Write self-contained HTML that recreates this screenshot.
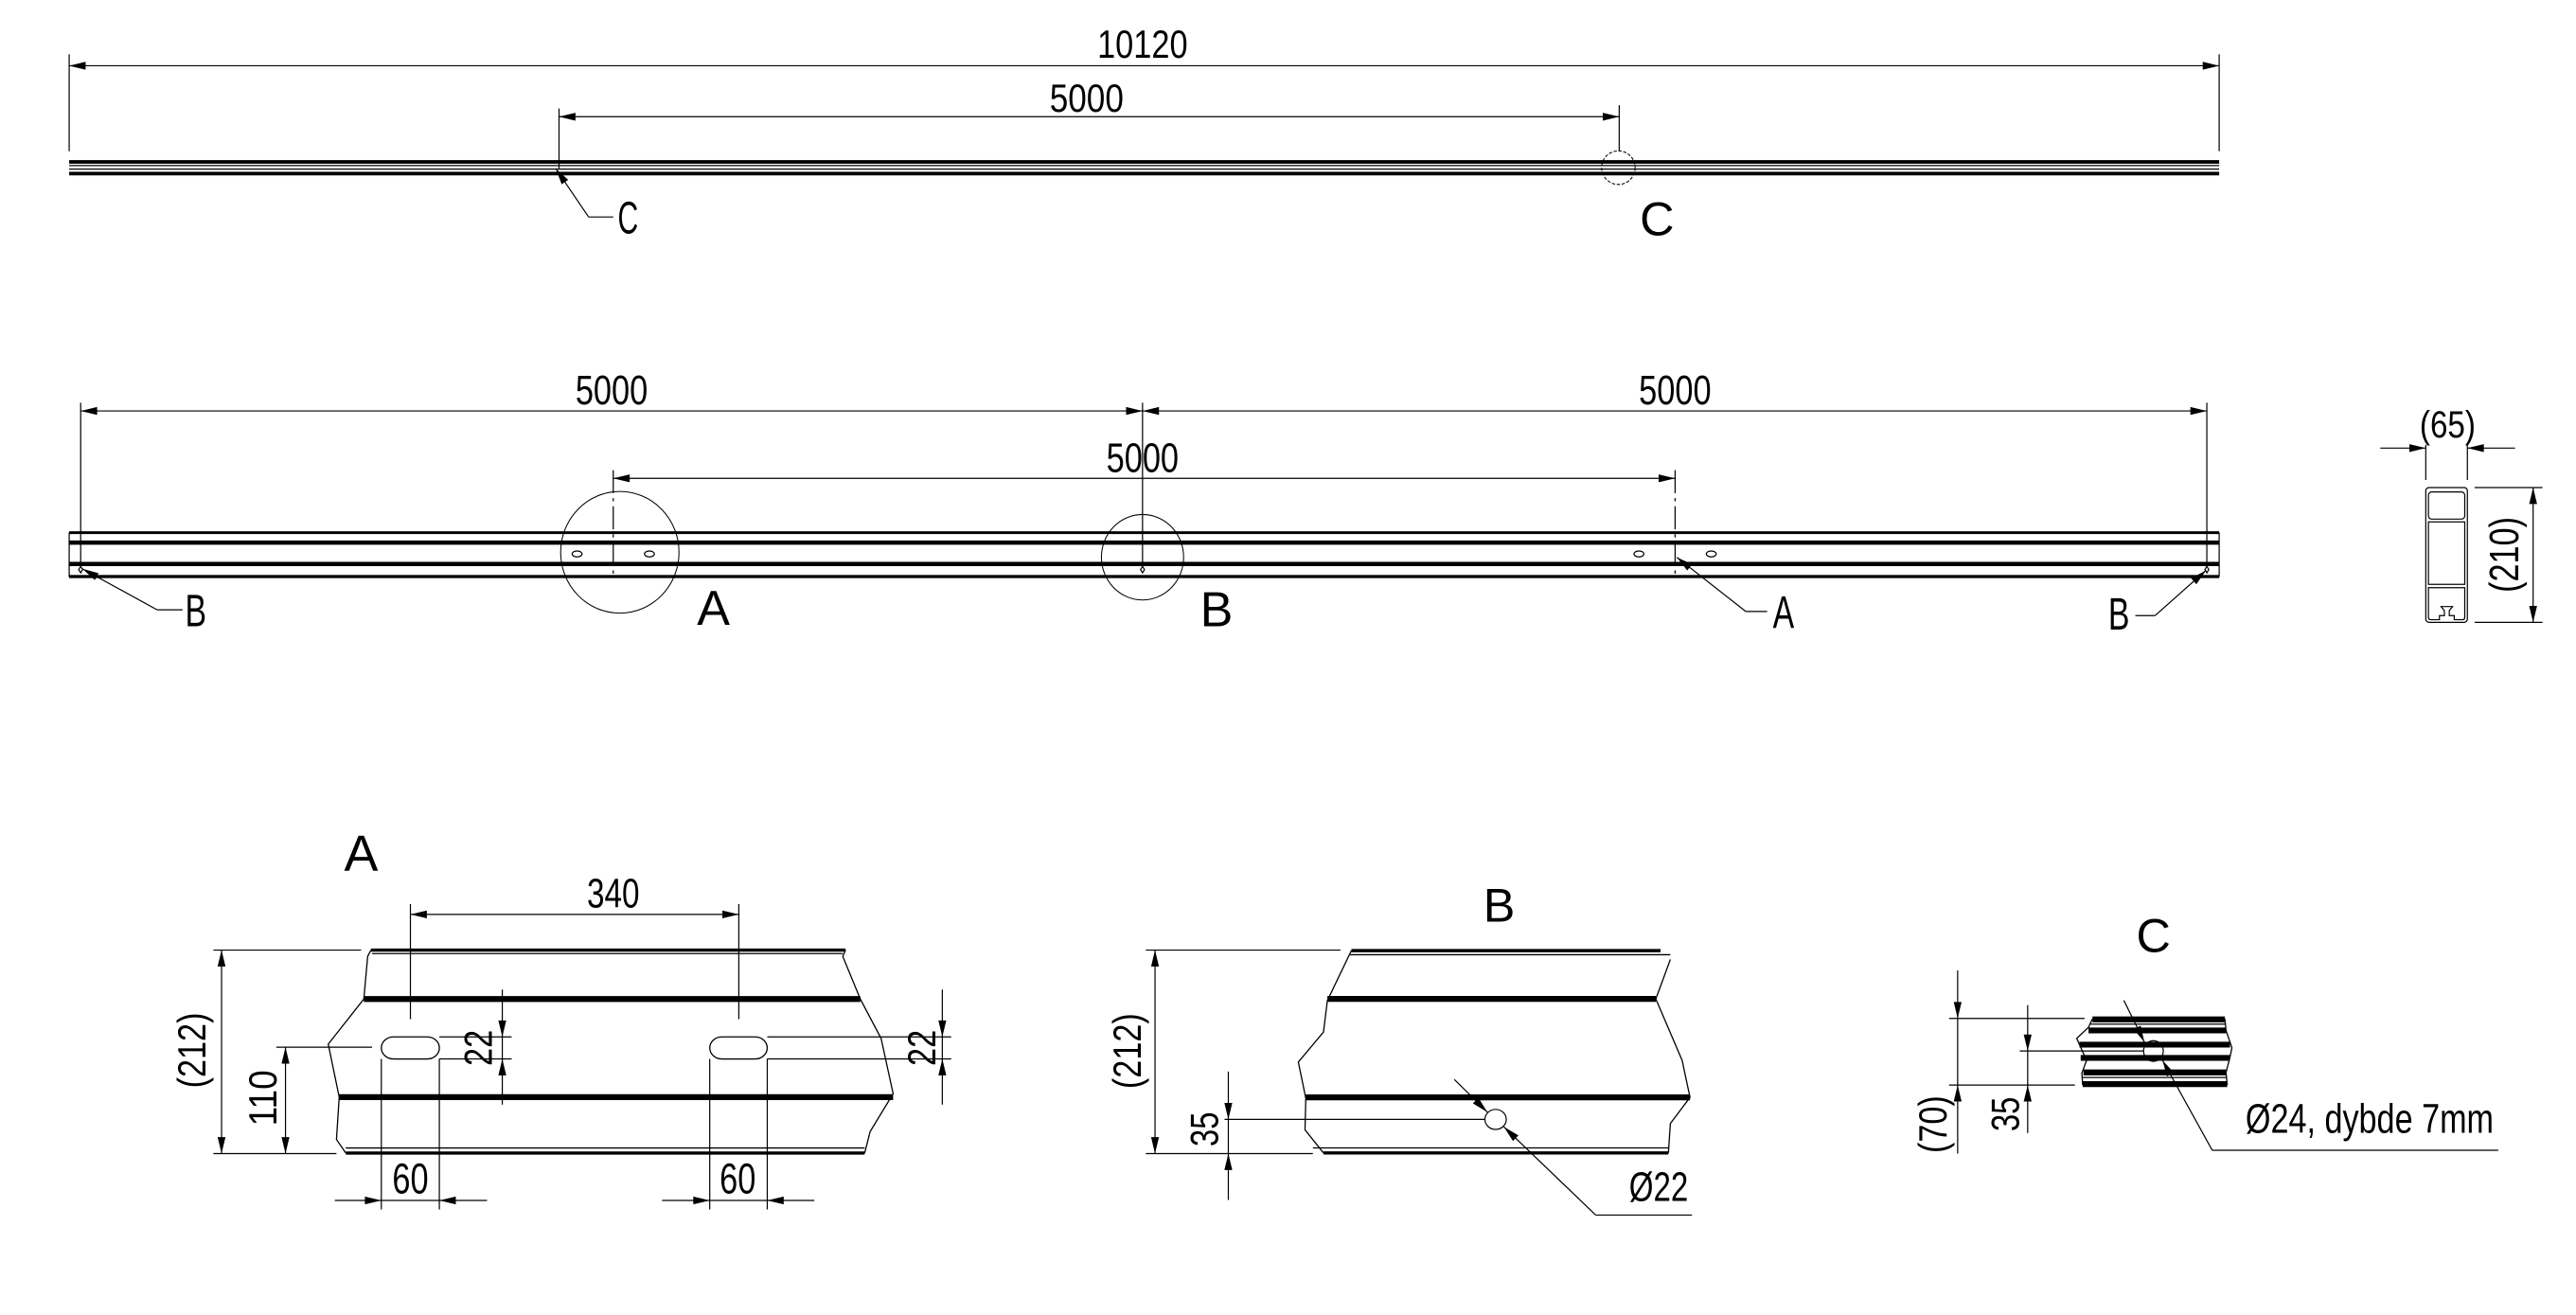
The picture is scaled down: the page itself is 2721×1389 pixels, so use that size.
<!DOCTYPE html>
<html><head><meta charset="utf-8"><style>
html,body{margin:0;padding:0;background:#fff;}
svg{display:block;}
text{font-family:"Liberation Sans Narrow","Liberation Sans",sans-serif;fill:#000;}
.r{font-family:"Liberation Sans",sans-serif;}
.t{stroke:#000;stroke-width:0.7;fill:none;}
.g .t{vector-effect:non-scaling-stroke;stroke-width:1.3;}
.g .m{vector-effect:non-scaling-stroke;stroke-width:3.4;stroke:#000;fill:none;}
.g .k{vector-effect:non-scaling-stroke;stroke-width:6.2;stroke:#000;fill:none;}
.d{stroke:#000;stroke-width:0.7;fill:none;}
.a{stroke:#000;stroke-width:0.7;fill:none;marker-end:url(#ar);}
.aa{stroke:#000;stroke-width:0.7;fill:none;marker-end:url(#ar);marker-start:url(#ar);}
</style></head><body>
<svg width="2721" height="1389" viewBox="0 0 1567 800" xmlns="http://www.w3.org/2000/svg">
<defs>
<marker id="ar" markerUnits="userSpaceOnUse" viewBox="-11 -3 12 6" refX="0" refY="0" markerWidth="12" markerHeight="6" orient="auto-start-reverse">
<path d="M0,0 L-10,-2.4 L-10,2.4 Z" fill="#000"/>
</marker>
</defs>

<!-- ========== TOP VIEW ========== -->
<line class="d" x1="42" y1="33" x2="42" y2="92"/>
<line class="d" x1="1350" y1="33" x2="1350" y2="92"/>
<line class="aa" x1="42" y1="40" x2="1350" y2="40"/>
<text x="695" y="35" font-size="24" text-anchor="middle" textLength="55" lengthAdjust="spacingAndGlyphs">10120</text>
<line class="d" x1="340" y1="66" x2="340" y2="103"/>
<line class="d" x1="985" y1="64" x2="985" y2="92"/>
<line class="aa" x1="340" y1="71" x2="985" y2="71"/>
<text x="661" y="68" font-size="24" text-anchor="middle" textLength="45" lengthAdjust="spacingAndGlyphs">5000</text>
<rect x="42" y="97.4" width="1308" height="2.2" fill="#000"/>
<line class="t" x1="42" y1="100.7" x2="1350" y2="100.7"/>
<line class="t" x1="42" y1="102.9" x2="1350" y2="102.9"/>
<rect x="42" y="104.5" width="1308" height="2.2" fill="#000"/>
<circle cx="984.5" cy="102" r="10.2" fill="none" stroke="#000" stroke-width="0.6" stroke-dasharray="2 1"/>
<line class="a" x1="358" y1="132" x2="338" y2="102.5"/>
<line class="d" x1="358" y1="132" x2="373" y2="132"/>
<text x="382" y="142" font-size="28" text-anchor="middle" textLength="12.5" lengthAdjust="spacingAndGlyphs">C</text>
<text class="r" x="1008" y="143" font-size="29" text-anchor="middle">C</text>

<!-- ========== MIDDLE VIEW ========== -->
<line class="d" x1="49" y1="245" x2="49" y2="345"/>
<line class="d" x1="695" y1="245" x2="695" y2="342"/>
<line class="d" x1="1342.5" y1="245" x2="1342.5" y2="345"/>
<line class="aa" x1="49" y1="250" x2="695" y2="250"/>
<line class="aa" x1="695" y1="250" x2="1342.5" y2="250"/>
<text x="372" y="246" font-size="25" text-anchor="middle" textLength="44" lengthAdjust="spacingAndGlyphs">5000</text>
<text x="1019" y="246" font-size="25" text-anchor="middle" textLength="44" lengthAdjust="spacingAndGlyphs">5000</text>
<line class="d" x1="373" y1="286" x2="373" y2="352" stroke-dasharray="14 3 2 3"/>
<line class="d" x1="1019" y1="286" x2="1019" y2="352" stroke-dasharray="14 3 2 3"/>
<line class="aa" x1="373" y1="291" x2="1019" y2="291"/>
<text x="695" y="287" font-size="25" text-anchor="middle" textLength="44" lengthAdjust="spacingAndGlyphs">5000</text>
<rect x="42" y="323.2" width="1308" height="1.7" fill="#000"/>
<rect x="42" y="328.8" width="1308" height="2.6" fill="#000"/>
<rect x="42" y="341.8" width="1308" height="2.6" fill="#000"/>
<rect x="42" y="349.8" width="1308" height="1.9" fill="#000"/>
<line class="t" x1="42" y1="324" x2="42" y2="351"/>
<line class="t" x1="1350" y1="324" x2="1350" y2="351"/>
<ellipse cx="351" cy="337" rx="3" ry="1.8" class="t"/>
<ellipse cx="395" cy="337" rx="3" ry="1.8" class="t"/>
<ellipse cx="997" cy="337" rx="3" ry="1.8" class="t"/>
<ellipse cx="1041" cy="337" rx="3" ry="1.8" class="t"/>
<ellipse cx="377" cy="336" rx="36" ry="37" fill="none" stroke="#000" stroke-width="0.6"/>
<ellipse cx="695" cy="339" rx="25" ry="26" fill="none" stroke="#000" stroke-width="0.6"/>
<path d="M695,344.5 L696.2,346.5 L695,348.5 L693.8,346.5 Z" class="t" stroke-width="0.4"/>
<path d="M49,344.5 L50.2,346.5 L49,348.5 L47.8,346.5 Z" class="t" stroke-width="0.4"/>
<path d="M1342.5,344.5 L1343.7,346.5 L1342.5,348.5 L1341.3,346.5 Z" class="t" stroke-width="0.4"/>
<line class="a" x1="95.5" y1="371" x2="50" y2="346"/>
<line class="d" x1="95.5" y1="371" x2="111" y2="371"/>
<text x="119" y="381" font-size="28" text-anchor="middle" textLength="13" lengthAdjust="spacingAndGlyphs">B</text>
<text class="r" x="434" y="380" font-size="30" text-anchor="middle">A</text>
<text class="r" x="740" y="381" font-size="30" text-anchor="middle">B</text>
<line class="a" x1="1062" y1="372" x2="1020" y2="339"/>
<line class="d" x1="1062" y1="372" x2="1075" y2="372"/>
<text x="1085" y="382" font-size="28" text-anchor="middle" textLength="13" lengthAdjust="spacingAndGlyphs">A</text>
<line class="a" x1="1311" y1="374.5" x2="1342" y2="347"/>
<line class="d" x1="1311" y1="374.5" x2="1299" y2="374.5"/>
<text x="1289" y="383" font-size="28" text-anchor="middle" textLength="13" lengthAdjust="spacingAndGlyphs">B</text>

<!-- ========== SECTION ========== -->
<line class="d" x1="1475.7" y1="270.7" x2="1475.7" y2="292"/>
<line class="d" x1="1501" y1="270.7" x2="1501" y2="292"/>
<line class="a" x1="1448" y1="272.6" x2="1475.7" y2="272.6"/>
<line class="a" x1="1530" y1="272.6" x2="1501" y2="272.6"/>
<text class="r" x="1489" y="266" font-size="23" text-anchor="middle" textLength="34" lengthAdjust="spacingAndGlyphs">(65)</text>
<rect x="1475.7" y="296.6" width="25.3" height="82" rx="2" class="t"/>
<rect x="1477.3" y="299.3" width="22.1" height="16.5" rx="2" class="t" stroke-width="0.5"/>
<rect x="1477.3" y="317.5" width="22.1" height="38" class="t" stroke-width="0.5"/>
<path d="M1477.3,357.5 H1499.4 V375.5 Q1499.4,377 1498,377 H1493 L1493,374.5 L1490,374.5 L1490,371.5 L1492,369 H1485 L1487,371.5 L1487,374.5 L1484,374.5 L1484,377 H1479 Q1477.3,377 1477.3,375.5 Z" class="t" stroke-width="0.5"/>
<line class="d" x1="1505.4" y1="296.6" x2="1546.7" y2="296.6"/>
<line class="d" x1="1505.4" y1="378.6" x2="1546.7" y2="378.6"/>
<line class="aa" x1="1541" y1="296.6" x2="1541" y2="378.6"/>
<text class="r" x="0" y="0" font-size="25" text-anchor="middle" textLength="46" lengthAdjust="spacingAndGlyphs" transform="translate(1532,337.5) rotate(-90)">(210)</text>

<!-- ========== DETAIL A ========== -->
<text class="r" x="219.6" y="530" font-size="31" text-anchor="middle">A</text>
<g class="g" transform="translate(86.4,501.2) scale(0.333,0.192)">
<line class="m" x1="418" y1="400" x2="1285" y2="400"/>
<line class="t" x1="420" y1="411" x2="1280" y2="411"/>
<line class="k" x1="405" y1="555" x2="1312" y2="555"/>
<line class="k" x1="360" y1="866" x2="1372" y2="866"/>
<line class="t" x1="372" y1="1027" x2="1320" y2="1027"/>
<line class="m" x1="372" y1="1043" x2="1320" y2="1043"/>
<polyline class="t" points="418,400 412,420 405,555 340,698 360,866 355,1000 372,1043"/>
<polyline class="t" points="1285,400 1280,420 1312,555 1350,680 1372,855 1330,975 1320,1043"/>
<rect class="t" x="437" y="675" width="106" height="70" rx="22" ry="35"/>
<rect class="t" x="1037" y="675" width="105" height="70" rx="22" ry="35"/>
</g>
<line class="d" x1="249.6" y1="550" x2="249.6" y2="620"/>
<line class="d" x1="449.4" y1="550" x2="449.4" y2="620"/>
<line class="aa" x1="249.6" y1="556.3" x2="449.4" y2="556.3"/>
<text x="373" y="552" font-size="25" text-anchor="middle" textLength="32" lengthAdjust="spacingAndGlyphs">340</text>
<line class="d" x1="267.2" y1="630.8" x2="311.2" y2="630.8"/>
<line class="d" x1="267.2" y1="644.2" x2="311.2" y2="644.2"/>
<line class="a" x1="305.5" y1="602" x2="305.5" y2="630.8"/>
<line class="a" x1="305.5" y1="672" x2="305.5" y2="644.2"/>
<line class="d" x1="305.5" y1="630.8" x2="305.5" y2="644.2"/>
<text class="r" x="0" y="0" font-size="24" text-anchor="middle" textLength="22" lengthAdjust="spacingAndGlyphs" transform="translate(299,637.5) rotate(-90)">22</text>
<line class="d" x1="466.7" y1="630.8" x2="578.6" y2="630.8"/>
<line class="d" x1="466.7" y1="644.2" x2="578.6" y2="644.2"/>
<line class="a" x1="573.2" y1="602" x2="573.2" y2="630.8"/>
<line class="a" x1="573.2" y1="672" x2="573.2" y2="644.2"/>
<line class="d" x1="573.2" y1="630.8" x2="573.2" y2="644.2"/>
<text class="r" x="0" y="0" font-size="24" text-anchor="middle" textLength="22" lengthAdjust="spacingAndGlyphs" transform="translate(569,637.5) rotate(-90)">22</text>
<line class="d" x1="129.7" y1="578" x2="219.6" y2="578"/>
<line class="d" x1="129.7" y1="701.8" x2="204.6" y2="701.8"/>
<line class="aa" x1="134.7" y1="578" x2="134.7" y2="701.8"/>
<text class="r" x="0" y="0" font-size="24" text-anchor="middle" textLength="46" lengthAdjust="spacingAndGlyphs" transform="translate(125,639) rotate(-90)">(212)</text>
<line class="d" x1="168" y1="637.1" x2="226.3" y2="637.1"/>
<line class="aa" x1="173.6" y1="637.1" x2="173.6" y2="701.8"/>
<text class="r" x="0" y="0" font-size="24" text-anchor="middle" textLength="34" lengthAdjust="spacingAndGlyphs" transform="translate(168,668) rotate(-90)">110</text>
<line class="d" x1="231.9" y1="644.2" x2="231.9" y2="735.8"/>
<line class="d" x1="267.2" y1="644.2" x2="267.2" y2="735.8"/>
<line class="a" x1="203.6" y1="730.3" x2="231.9" y2="730.3"/>
<line class="a" x1="296.2" y1="730.3" x2="267.2" y2="730.3"/>
<line class="d" x1="231.9" y1="730.3" x2="267.2" y2="730.3"/>
<text x="249.6" y="726" font-size="26" text-anchor="middle" textLength="22" lengthAdjust="spacingAndGlyphs">60</text>
<line class="d" x1="431.7" y1="644.2" x2="431.7" y2="735.8"/>
<line class="d" x1="466.7" y1="644.2" x2="466.7" y2="735.8"/>
<line class="a" x1="402.7" y1="730.3" x2="431.7" y2="730.3"/>
<line class="a" x1="495.3" y1="730.3" x2="466.7" y2="730.3"/>
<line class="d" x1="431.7" y1="730.3" x2="466.7" y2="730.3"/>
<text x="448.7" y="726" font-size="26" text-anchor="middle" textLength="22" lengthAdjust="spacingAndGlyphs">60</text>

<!-- ========== DETAIL B ========== -->
<text class="r" x="912" y="560.6" font-size="29" text-anchor="middle">B</text>
<g class="g" transform="translate(662.4,564.5) scale(0.239,0.192)">
<line class="m" x1="668" y1="72" x2="1455" y2="72"/>
<line class="t" x1="665" y1="85" x2="1480" y2="85"/>
<line class="k" x1="607" y1="225" x2="1443" y2="225"/>
<line class="k" x1="552" y1="537" x2="1530" y2="537"/>
<line class="t" x1="570" y1="697" x2="1475" y2="697"/>
<line class="m" x1="597" y1="713" x2="1475" y2="713"/>
<polyline class="t" points="668,72 607,230 597,330 533,425 552,540 550,640 597,713"/>
<polyline class="t" points="1480,100 1443,225 1510,420 1530,537 1480,620 1475,713"/>
</g>
<ellipse cx="909.8" cy="681" rx="6.5" ry="6.1" class="t" fill="#fff"/>
<line class="d" x1="697" y1="578" x2="815.4" y2="578"/>
<line class="d" x1="697" y1="701.8" x2="798.6" y2="701.8"/>
<line class="aa" x1="702.6" y1="578" x2="702.6" y2="701.8"/>
<text class="r" x="0" y="0" font-size="24" text-anchor="middle" textLength="46" lengthAdjust="spacingAndGlyphs" transform="translate(694,639.4) rotate(-90)">(212)</text>
<line class="d" x1="744.9" y1="681" x2="903.3" y2="681"/>
<line class="a" x1="747.2" y1="651.9" x2="747.2" y2="681"/>
<line class="a" x1="747.2" y1="730" x2="747.2" y2="701.8"/>
<line class="d" x1="747.2" y1="681" x2="747.2" y2="701.8"/>
<text class="r" x="0" y="0" font-size="24" text-anchor="middle" textLength="21" lengthAdjust="spacingAndGlyphs" transform="translate(741,687) rotate(-90)">35</text>
<line class="a" x1="884.7" y1="656.7" x2="904.8" y2="676.6"/>
<line class="a" x1="970.7" y1="739.2" x2="914.8" y2="685.5"/>
<line class="d" x1="970.7" y1="739.2" x2="1029.3" y2="739.2"/>
<text class="r" x="1009" y="730.6" font-size="25" text-anchor="middle" textLength="36" lengthAdjust="spacingAndGlyphs">Ø22</text>

<!-- ========== DETAIL C ========== -->
<text class="r" x="1310" y="579" font-size="29" text-anchor="middle">C</text>
<g class="g" transform="translate(1180.9,576) scale(0.239,0.192)">
<line class="k" x1="385" y1="230" x2="722" y2="230"/>
<line class="t" x1="380" y1="245" x2="724" y2="245"/>
<line class="k" x1="375" y1="265" x2="725" y2="265"/>
<line class="k" x1="352" y1="310" x2="735" y2="310"/>
<line class="k" x1="355" y1="352" x2="735" y2="352"/>
<line class="k" x1="362" y1="398" x2="725" y2="398"/>
<line class="t" x1="360" y1="414" x2="726" y2="414"/>
<line class="k" x1="360" y1="435" x2="728" y2="435"/>
<polyline class="t" points="385,228 375,255 345,290 352,310 370,360 358,400 360,438"/>
<polyline class="t" points="722,228 725,265 740,320 735,350 725,398 728,438"/>
</g>
<ellipse cx="1310" cy="639.4" rx="6" ry="6.3" class="t" fill="#fff"/>
<line class="d" x1="1185.7" y1="619.6" x2="1268.1" y2="619.6"/>
<line class="d" x1="1185.7" y1="660.1" x2="1262.2" y2="660.1"/>
<line class="a" x1="1190.9" y1="590.4" x2="1190.9" y2="619.6"/>
<line class="a" x1="1190.9" y1="701.8" x2="1190.9" y2="660.1"/>
<line class="d" x1="1190.9" y1="619.6" x2="1190.9" y2="660.1"/>
<text class="r" x="0" y="0" font-size="24" text-anchor="middle" textLength="35" lengthAdjust="spacingAndGlyphs" transform="translate(1184,684) rotate(-90)">(70)</text>
<line class="d" x1="1228.7" y1="639.4" x2="1304" y2="639.4"/>
<line class="a" x1="1233.5" y1="611.5" x2="1233.5" y2="639.4"/>
<line class="a" x1="1233.5" y1="689.3" x2="1233.5" y2="660.1"/>
<line class="d" x1="1233.5" y1="639.4" x2="1233.5" y2="660.1"/>
<text class="r" x="0" y="0" font-size="24" text-anchor="middle" textLength="21" lengthAdjust="spacingAndGlyphs" transform="translate(1228,677.8) rotate(-90)">35</text>
<line class="a" x1="1292" y1="608.6" x2="1304.5" y2="634"/>
<line class="a" x1="1345.8" y1="699.8" x2="1315.5" y2="645"/>
<line class="d" x1="1345.8" y1="699.8" x2="1519.8" y2="699.8"/>
<text x="1366" y="689" font-size="25" textLength="151" lengthAdjust="spacingAndGlyphs">Ø24, dybde 7mm</text>
</svg>
</body></html>
